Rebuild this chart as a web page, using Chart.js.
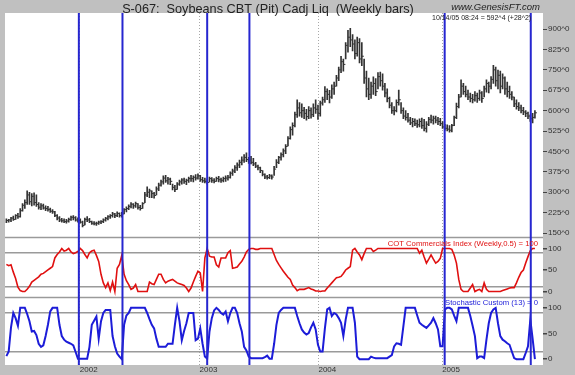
<!DOCTYPE html>
<html>
<head>
<meta charset="utf-8">
<script src="https://cdn.jsdelivr.net/npm/chart.js@4.4.0/dist/chart.umd.min.js"></script>
<style>
  html, body { margin: 0; padding: 0; background: #c0c0c0; }
  #wrap { width: 575px; height: 375px; position: relative; }
</style>
</head>
<body>
<div id="wrap"><canvas id="soyChart"></canvas></div>
<script>
// weekly bars, index 0 = late May 2001, last = 10/14/05
const highs = [
  202,200,208,212,218,222,240,258,272,305,
  300,295,298,290,262,258,256,250,248,242,
  236,230,218,210,204,202,200,205,212,214,
  210,206,202,194,205,210,204,194,192,190,
  194,196,202,208,214,218,226,222,228,224,
  226,240,246,254,262,258,264,258,252,262,
  300,320,312,305,300,320,334,345,360,362,
  355,352,330,325,335,345,350,352,348,356,
  362,360,365,368,362,355,352,348,356,354,
  350,356,358,352,356,360,362,375,385,398,
  408,418,430,438,445,428,432,425,410,400,
  392,380,368,362,366,364,395,420,432,445,
  460,475,505,540,555,595,640,630,625,612,
  605,615,610,625,640,620,635,650,688,680,
  675,695,705,730,760,800,790,850,895,903,
  880,860,870,865,850,790,745,720,705,724,
  718,740,742,735,700,680,650,630,615,640,
  676,630,610,600,590,575,572,570,565,570,
  573,568,560,575,584,580,580,575,572,560,
  550,548,545,550,580,628,660,713,700,690,
  676,665,660,670,665,676,670,690,713,705,
  725,767,760,749,745,735,724,705,690,670,
  650,640,630,620,612,600,595,585,590,600
];
const lows = [
  188,190,192,196,200,204,208,230,240,255,
  255,250,252,248,238,236,238,232,230,226,
  222,210,198,192,190,188,186,190,196,198,
  194,190,186,172,180,192,188,182,180,178,
  182,184,188,194,198,204,208,206,210,208,
  208,220,228,236,242,240,244,238,234,240,
  262,284,280,280,278,290,306,322,330,336,
  330,328,308,302,310,325,330,332,328,336,
  340,338,344,348,340,336,334,330,338,336,
  334,340,338,336,338,340,344,352,362,372,
  380,390,400,410,412,406,404,398,390,382,
  372,360,350,348,350,348,362,390,405,418,
  430,442,470,495,510,540,575,580,575,570,
  565,570,572,578,590,568,580,620,630,640,
  628,645,660,690,710,740,745,790,815,835,
  820,790,800,775,765,700,650,640,645,660,
  655,680,690,675,650,632,610,590,584,595,
  620,590,570,565,558,548,540,545,538,540,
  535,525,521,545,555,550,555,548,545,535,
  528,525,521,522,545,570,610,650,660,650,
  640,632,628,635,630,638,630,650,668,665,
  680,700,690,680,665,680,660,650,645,639,
  615,605,600,592,585,578,570,560,555,572
];
const closes = [
  196,198,205,200,214,210,232,252,262,290,
  265,285,262,255,245,250,242,240,236,230,
  228,214,205,198,195,192,194,200,208,206,
  198,196,190,178,200,198,192,186,184,186,
  190,192,198,204,210,214,220,214,222,214,
  220,236,240,248,256,250,258,244,240,258,
  290,300,305,295,288,312,326,338,352,342,
  348,340,318,310,330,338,345,340,344,350,
  350,355,352,360,346,342,340,336,350,344,
  340,350,346,344,350,352,355,370,378,390,
  400,410,418,428,420,418,410,404,396,390,
  380,366,356,354,360,356,385,410,428,438,
  452,468,498,530,545,585,610,592,600,590,
  578,600,585,610,605,590,628,640,670,660,
  650,680,690,720,750,780,770,840,870,860,
  845,810,850,790,800,720,680,660,690,700,
  670,725,710,690,665,645,620,600,600,630,
  640,600,580,575,565,555,560,552,548,560,
  545,535,550,568,565,572,565,560,552,540,
  535,532,528,545,575,615,650,690,670,660,
  650,645,640,655,645,665,645,680,700,690,
  715,750,710,730,690,720,680,670,660,650,
  625,615,610,600,595,590,580,570,575,592
];
const cotIndex = [
  63,60,62,45,30,10,2,0,0,5,
  12,22,26,30,34,40,42,46,50,54,
  58,78,86,92,100,94,96,100,92,88,
  90,93,100,95,86,78,90,94,96,84,
  70,40,20,9,20,2,22,0,54,63,
  84,40,25,16,5,8,16,0,0,0,
  0,0,22,18,16,28,40,40,28,20,
  24,26,28,24,20,18,16,14,8,0,
  8,22,35,47,43,0,78,100,82,80,
  80,62,57,78,78,78,90,95,54,55,
  57,64,70,80,92,98,100,100,98,98,
  100,100,100,100,100,100,86,72,63,55,
  47,40,33,28,15,9,2,5,5,5,
  7,9,6,4,1,1,0,1,1,8,
  14,20,26,32,33,35,42,50,54,58,
  96,100,92,85,74,88,100,100,100,93,
  96,100,100,100,100,100,100,100,100,100,
  100,100,100,100,100,100,100,100,100,89,
  96,80,66,75,85,75,66,70,77,100,
  100,100,100,98,85,66,28,5,0,0,
  0,8,16,0,3,5,0,20,5,0,
  0,0,0,0,0,2,4,6,8,9,
  9,20,33,44,50,66,81,95,100,100
];
const stochastic = [
  6,15,62,90,80,65,100,100,100,88,
  74,54,55,47,30,24,27,45,67,93,
  100,100,100,67,45,38,34,32,30,27,
  14,1,1,1,1,1,24,67,75,83,
  40,74,90,96,96,96,45,25,11,5,
  0,67,85,90,100,100,100,100,100,100,
  100,90,78,67,60,40,24,24,24,24,
  30,30,30,67,100,74,37,55,70,90,
  90,90,37,40,60,30,5,1,54,80,
  95,100,96,90,87,93,74,90,100,100,
  90,70,54,24,17,5,2,2,2,2,
  2,2,4,7,1,1,30,67,90,96,
  100,100,100,100,100,100,84,70,58,52,
  48,51,62,71,58,28,15,15,60,97,
  100,84,90,87,80,71,45,77,100,100,
  100,71,5,0,0,0,0,0,5,3,
  2,2,2,2,2,2,5,8,25,31,
  30,28,64,100,100,100,100,100,85,71,
  67,64,61,66,71,80,70,58,25,25,
  97,100,100,97,85,74,100,100,100,100,
  100,84,65,45,2,5,5,2,38,70,
  90,97,100,70,45,38,35,31,28,15,
  2,0,0,0,0,12,25,77,40,0
];

const yearWeeks = [31.8, 83.7, 135.2, 188.8];
const yearLabels = ['2002', '2003', '2004', '2005'];
const signalWeeks = [31.4, 50.3, 87, 105.3, 189.9, 227.2];
const priceTicks = [150, 225, 300, 375, 450, 525, 600, 675, 750, 825, 900];
const oscTicks = [0, 50, 100];
const cotLevels = [10, 90];
const stochLevels = [15, 90];

const axisFont = { family: 'Arial', size: 8 };

function levelAxis(levels, min, max, weight) {
  return {
    type: 'linear', position: 'right', stack: 'panels', stackWeight: weight,
    min: min, max: max, offset: false,
    afterBuildTicks: s => { s.ticks = oscTicks.concat(levels).map(v => ({ value: v })); },
    afterFit: s => { s.width = 32; },
    ticks: {
      autoSkip: false, padding: 1, color: '#333', font: axisFont,
      callback: v => oscTicks.includes(v) ? String(v) : ''
    },
    grid: {
      drawOnChartArea: true, tickLength: 4, lineWidth: 1.5,
      color: c => c.tick && levels.includes(c.tick.value) ? '#9a9a9a' : 'rgba(0,0,0,0)',
      tickColor: c => c.tick && oscTicks.includes(c.tick.value) ? '#444' : 'rgba(0,0,0,0)'
    },
    border: { display: false }
  };
}

const chrome = {
  id: 'chrome',
  beforeDraw(chart) {
    const { ctx, chartArea: a } = chart;
    ctx.save();
    ctx.fillStyle = '#ffffff';
    ctx.fillRect(a.left, a.top, a.right - a.left, a.bottom - a.top);
    ctx.restore();
  },
  beforeDatasetsDraw(chart) {
    const { ctx, chartArea: a, scales } = chart;
    ctx.save();
    ctx.strokeStyle = '#9a9a9a';
    ctx.lineWidth = 1.5;
    [scales.yCot.top, scales.yStoch.top].forEach(y => {
      ctx.beginPath();
      ctx.moveTo(a.left, y);
      ctx.lineTo(a.right, y);
      ctx.stroke();
    });
    ctx.restore();
  },
  afterDatasetsDraw(chart) {
    const { ctx, chartArea: a, scales } = chart;
    ctx.save();
    ctx.strokeStyle = '#2626d0';
    ctx.lineWidth = 2;
    signalWeeks.forEach(w => {
      const x = scales.x.getPixelForValue(w);
      ctx.beginPath();
      ctx.moveTo(x, a.top);
      ctx.lineTo(x, a.bottom);
      ctx.stroke();
    });
    ctx.restore();
  },
  afterDraw(chart) {
    const { ctx, scales } = chart;
    ctx.save();
    ctx.fillStyle = '#222';
    ctx.font = '12.7px Arial';
    ctx.textAlign = 'center';
    ctx.fillText('S-067:  Soybeans CBT (Pit) Cadj Liq  (Weekly bars)', 268, 13);
    ctx.font = 'italic 9.5px Arial';
    ctx.textAlign = 'right';
    ctx.fillText('www.GenesisFT.com', 540, 10);
    ctx.font = '7px Arial';
    ctx.textAlign = 'left';
    ctx.fillText('10/14/05 08:24 = 592^4 (+28^2)', 432, 20);
    ctx.textAlign = 'right';
    ctx.font = '7.7px Arial';
    ctx.fillStyle = '#e01010';
    ctx.fillText('COT Commercials Index (Weekly,0.5) = 100', 538, scales.yCot.top + 8);
    ctx.fillStyle = '#1c1cd8';
    ctx.fillText('Stochastic Custom (13) = 0', 538, scales.yStoch.top + 7.5);
    ctx.restore();
  }
};

const weeks = highs.map((h, i) => i);

new Chart(document.getElementById('soyChart'), {
  type: 'line',
  data: {
    datasets: [
      {
        type: 'bar',
        data: weeks.map(i => ({ x: i, y: [lows[i], highs[i]] })),
        yAxisID: 'yPrice',
        backgroundColor: '#333',
        barThickness: 1,
        grouped: false
      },
      {
        type: 'scatter',
        data: weeks.map(i => ({ x: i + 0.45, y: closes[i] })),
        yAxisID: 'yPrice',
        pointStyle: 'line',
        radius: 1,
        borderColor: '#333',
        borderWidth: 1
      },
      {
        type: 'line',
        data: weeks.map(i => ({ x: i, y: cotIndex[i] })),
        yAxisID: 'yCot',
        borderColor: '#e01010',
        borderWidth: 1.6,
        pointRadius: 0,
        tension: 0
      },
      {
        type: 'line',
        data: weeks.map(i => ({ x: i, y: stochastic[i] })),
        yAxisID: 'yStoch',
        borderColor: '#1c1cd8',
        borderWidth: 2,
        pointRadius: 0,
        tension: 0
      }
    ]
  },
  options: {
    responsive: true,
    maintainAspectRatio: false,
    animation: false,
    events: [],
    layout: { padding: { left: 4, top: 13, right: 0, bottom: 0 } },
    plugins: { legend: { display: false }, tooltip: { enabled: false }, title: { display: false } },
    scales: {
      x: {
        type: 'linear', min: -0.6, max: 232.5, offset: false,
        afterBuildTicks: s => { s.ticks = yearWeeks.map(v => ({ value: v })); },
        afterFit: s => { s.height = 10; },
        ticks: {
          autoSkip: false, maxRotation: 0, align: 'start', padding: 0,
          color: '#333', font: { family: 'Arial', size: 8 },
          callback: (v, i) => yearLabels[i]
        },
        grid: { color: '#a8a8a8', lineWidth: 1, drawTicks: false, offset: false },
        border: { display: false, dash: [1, 2] }
      },
      yPrice: {
        type: 'linear', position: 'right', stack: 'panels', stackWeight: 224.5,
        min: 133.5, max: 959, offset: false,
        afterBuildTicks: s => { s.ticks = priceTicks.map(v => ({ value: v })); },
        afterFit: s => { s.width = 32; },
        ticks: { autoSkip: false, padding: 1, color: '#333', font: axisFont, callback: v => v + '^0' },
        grid: { drawOnChartArea: false, tickLength: 4, tickColor: '#444' },
        border: { display: false }
      },
      yCot: levelAxis(cotLevels, -14, 125.5, 60),
      yStoch: levelAxis(stochLevels, -11.4, 120.2, 67.5)
    }
  },
  plugins: [chrome]
});
</script>
</body>
</html>
